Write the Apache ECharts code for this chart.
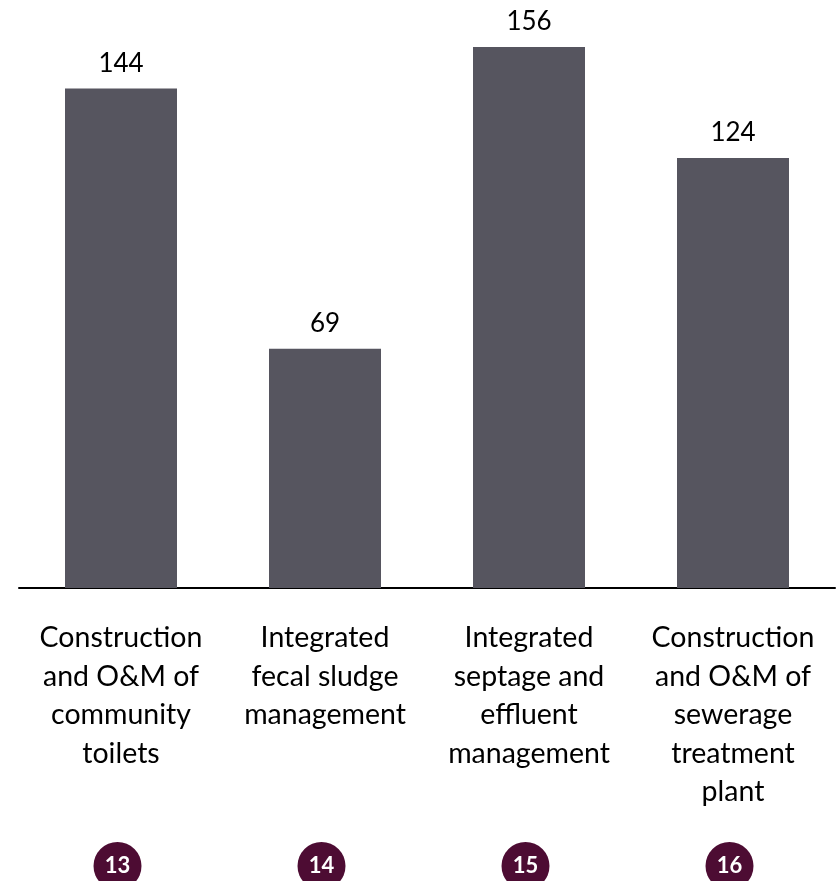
<!DOCTYPE html>
<html>
<head>
<meta charset="utf-8">
<script src="https://cdn.jsdelivr.net/npm/echarts@6/dist/echarts.min.js"></script>
<style>
  html, body { margin: 0; padding: 0; background: #fff; }
  #chart { width: 838px; height: 881px; }
</style>
</head>
<body>
<div id="chart"></div>
<script>
    var categories = [
        'Construction\nand O&M of\ncommunity\ntoilets',
        'Integrated\nfecal sludge\nmanagement',
        'Integrated\nseptage and\neffluent\nmanagement',
        'Construction\nand O&M of\nsewerage\ntreatment\nplant'
    ];
    var values = [144, 69, 156, 124];
    var badges = ['13', '14', '15', '16'];

    var myChart = echarts.init(document.getElementById('chart'));
    var font = 'Lato';
    var option = {
        animation: false,
        grid: { left: 19, right: 3, top: 33, bottom: 293, outerBoundsMode: 'none' },
        xAxis: [
            {
                type: 'category',
                data: categories,
                axisLine: { lineStyle: { color: '#000', width: 2 } },
                axisTick: { show: false },
                axisLabel: {
                    interval: 0,
                    margin: 31,
                    color: '#000',
                    fontFamily: font,
                    fontSize: 28.5,
                    lineHeight: 38.5
                }
            },
            {
                type: 'category',
                position: 'bottom',
                data: badges,
                axisLine: { show: false },
                axisTick: { show: false },
                axisLabel: {
                    interval: 0,
                    margin: 254,
                    formatter: function (v) { return '{c|' + v + '}{s|}'; },
                    rich: {
                        c: {
                            width: 48,
                            height: 48,
                            lineHeight: 48,
                            align: 'center',
                            borderRadius: 24,
                            backgroundColor: '#4d0c33',
                            color: '#fff',
                            fontFamily: font,
                            fontWeight: 'bold',
                            fontSize: 22
                        },
                        s: { width: 7, height: 48 }
                    }
                }
            }
        ],
        yAxis: {
            type: 'value',
            min: 0,
            max: 160,
            show: false
        },
        series: [
            {
                type: 'bar',
                data: values,
                barWidth: 112,
                itemStyle: { color: '#56555f' },
                label: {
                    show: true,
                    position: 'top',
                    distance: 12,
                    color: '#000',
                    fontFamily: font,
                    fontSize: 26
                }
            }
        ]
    };
    myChart.setOption(option);
</script>
</body>
</html>
